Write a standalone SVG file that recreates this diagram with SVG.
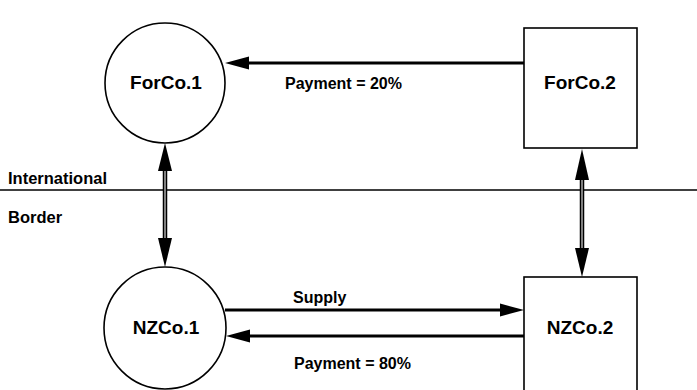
<svg xmlns="http://www.w3.org/2000/svg" width="697" height="390" viewBox="0 0 697 390">
<style>
.node{fill:#fff;stroke:#000;stroke-width:1.6}
.lbl{font-family:"Liberation Sans",Arial,sans-serif;font-weight:bold;fill:#000}
.big{font-size:19px}
.sm{font-size:16px}
.bd{font-size:16.5px}
.shaft{stroke:#000;stroke-width:3;fill:none}
.head{fill:#000}
.dbl{stroke:#000;stroke-width:4.5;fill:none}
.dblin{stroke:#aaa;stroke-width:1.5;fill:none}
</style>
<rect width="697" height="390" fill="#fff"/>
<g id="border">
<line x1="0" y1="190" x2="697" y2="190" stroke="#000" stroke-width="1.5"/>
<text class="lbl bd" x="8" y="184">International</text>
<text class="lbl bd" x="8" y="223">Border</text>
</g>
<g id="ForCo1">
<circle class="node" cx="165" cy="83" r="60"/>
<text class="lbl big" x="166" y="89" text-anchor="middle">ForCo.1</text>
</g>
<g id="ForCo2">
<rect class="node" x="524" y="28" width="113" height="120"/>
<text class="lbl big" x="580" y="89" text-anchor="middle">ForCo.2</text>
</g>
<g id="NZCo1">
<circle class="node" cx="165" cy="328" r="61"/>
<text class="lbl big" x="166" y="334" text-anchor="middle">NZCo.1</text>
</g>
<g id="NZCo2">
<rect class="node" x="524" y="277" width="113" height="125"/>
<text class="lbl big" x="580" y="334" text-anchor="middle">NZCo.2</text>
</g>
<g id="connectors">
<line class="shaft" x1="524" y1="63" x2="246" y2="63"/>
<polygon class="head" points="225,63 249,56.5 249,69.5"/>
<text class="lbl sm" x="285" y="89">Payment = 20%</text>
<line class="shaft" x1="225" y1="310" x2="503" y2="310"/>
<polygon class="head" points="524,310 500,303.5 500,316.5"/>
<text class="lbl sm" x="293" y="303">Supply</text>
<line class="shaft" x1="524" y1="336" x2="247" y2="336"/>
<polygon class="head" points="226,336 250,329.5 250,342.5"/>
<text class="lbl sm" x="294" y="369">Payment = 80%</text>
<line class="dbl" x1="165" y1="168" x2="165" y2="240"/>
<line class="dblin" x1="165" y1="168" x2="165" y2="240"/>
<polygon class="head" points="165,143 158,171 172,171"/>
<polygon class="head" points="165,267 158,238 172,238"/>
<line class="dbl" x1="582" y1="178" x2="582" y2="250"/>
<line class="dblin" x1="582" y1="178" x2="582" y2="250" stroke="#fff"/>
<polygon class="head" points="582,149 575,180 589,180"/>
<polygon class="head" points="582,277 575,248 589,248"/>
</g>
</svg>
